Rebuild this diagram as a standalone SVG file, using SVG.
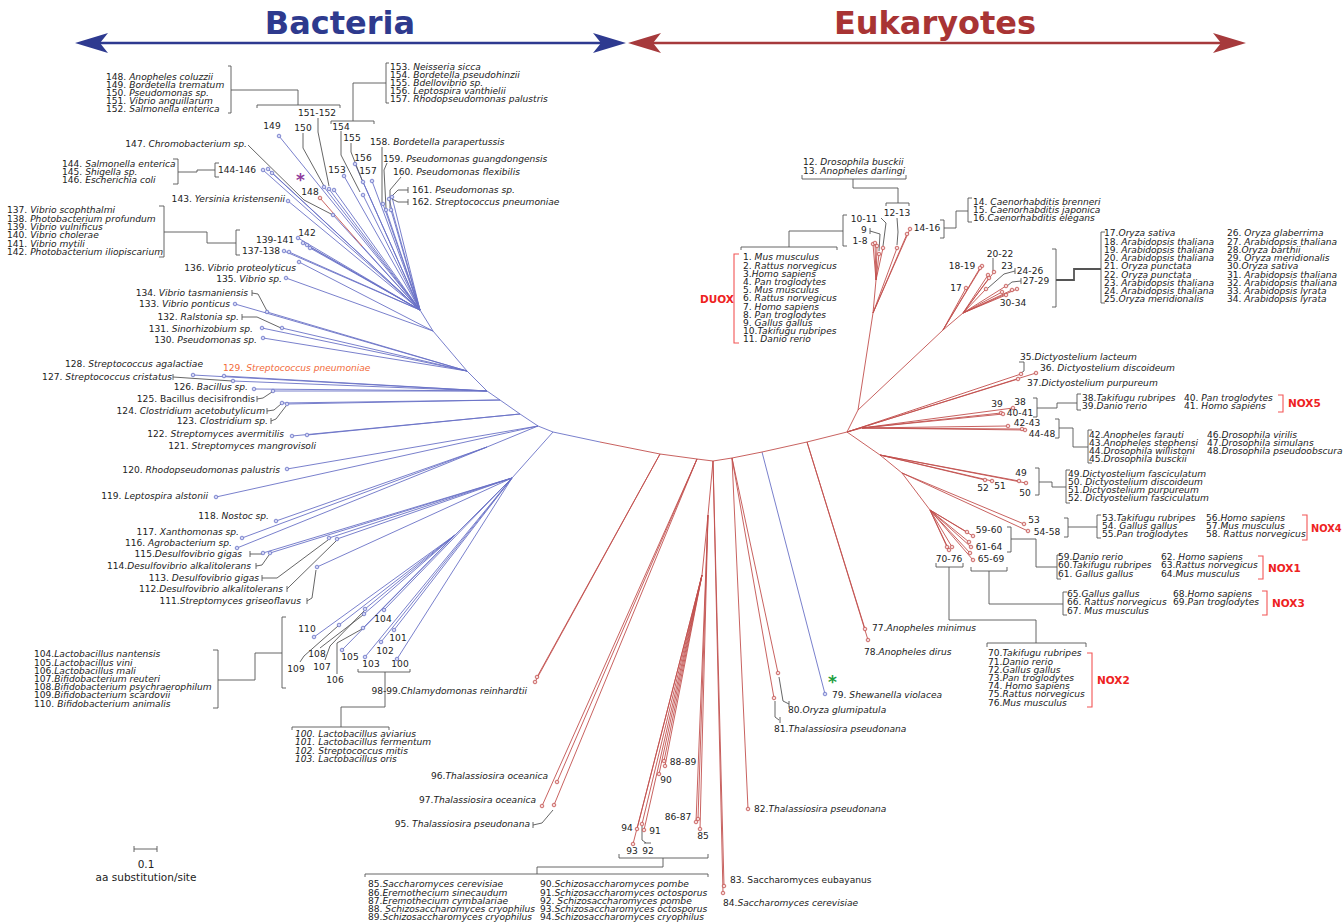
<svg xmlns="http://www.w3.org/2000/svg" width="1344" height="923" viewBox="0 0 1344 923">
<style>
.t{font-family:"DejaVu Sans",Verdana,sans-serif;font-size:9.1px;fill:#222}
.i{font-style:italic}
.m{text-anchor:middle}
.e{text-anchor:end}
.bl{stroke:#6a72c6;stroke-width:0.9;fill:none}
.rd{stroke:#c2504e;stroke-width:0.9;fill:none}
.gc{stroke:#555;stroke-width:0.9;fill:none}
.rb{stroke:#f25555;stroke-width:1.1;fill:none}
.bt{fill:#d4d7f4;stroke:#6a72c6;stroke-width:0.8}
.et{fill:#f6d8d8;stroke:#c2504e;stroke-width:0.8}
.nox{font-family:"DejaVu Sans",Verdana,sans-serif;font-size:10.5px;font-weight:bold;fill:#ee2222}
.ttl{font-family:"DejaVu Sans",Verdana,sans-serif;font-size:32px;font-weight:bold;text-anchor:middle}
</style>
<rect width="1344" height="923" fill="#fff"/>
<g id="header">
<text class="ttl" x="340" y="34" fill="#2e3a8e">Bacteria</text>
<text class="ttl" x="935" y="34" fill="#a83434">Eukaryotes</text>
<path d="M100,43 H601" stroke="#2e3a90" stroke-width="2.5"/>
<polygon points="75,43 108,33 100,43 108,53" fill="#2e3a90"/>
<polygon points="626,43 593,33 601,43 593,53" fill="#2e3a90"/>
<path d="M653,43 H1221" stroke="#a63a3c" stroke-width="2.5"/>
<polygon points="628,43 661,33 653,43 661,53" fill="#a63a3c"/>
<polygon points="1246,43 1213,33 1221,43 1213,53" fill="#a63a3c"/>
</g>
<g id="connectors">
<path class="bl" d="M600,442 L553,432 L538,426 L520,414 L500,400 L487,391 L467,371 L433,331 L420,310
M553,432 L512,478 M512,478 L397,659 M512,478 L394,630 M512,478 L381,642 M512,478 L365,657 M512,478 L384,610
M512,478 L455,535 M455,535 L342,650 M455,535 L363,628 M455,535 L365,609 M455,535 L364,614 M455,535 L339,625 M455,535 L314,637
M512,478 L317,567 M512,478 L337,539 M512,478 L329,538 M512,478 L270,553 M512,478 L263,553
M538,426 L487,447 M487,447 L237,548 M487,447 L242,538 M487,447 L276,521 M538,426 L216,497 M538,426 L287,469
M520,414 L307,435 M520,414 L292,436
M500,400 L287,404 M500,400 L282,403
M487,391 L273,391 M487,391 L254,389 M487,391 L233,381 M487,391 L193,375 M487,391 L224,376
M467,371 L263,338 M467,371 L262,328 M467,371 L282,328 M467,371 L235,304 M467,371 L267,312
M433,331 L286,278 M433,331 L299,262
M420,310 L284,251 M420,310 L289,252 M420,310 L303,243 M420,310 L307,245 M420,310 L310,248 M420,310 L298,238 M420,310 L288,201
M420,310 L263,170 M420,310 L268,169 M420,310 L272,173 M420,310 L333,215 M420,310 L279,136 M420,310 L324,187 M420,310 L329,189 M420,310 L334,190
M420,310 L344,176 M420,310 L363,195 M420,310 L363,182 M420,310 L355,164 M420,310 L372,181 M420,310 L383,204 M420,310 L386,210 M420,310 L391,210 M420,310 L392,197 M420,310 L389,199 M420,310 L362,246
M762,452 L825,694"/>
<path class="rd" d="M362,246 L320,198
M600,442 L660,454 L697,459 L713,461 L732,458 L762,452 L807,442 L847,432
M660,454 L537,677 M660,454 L535,682
M697,459 L557,782 M697,459 L542,806 M697,459 L554,805
M713,461 L708,515 L702,575
M702,575 L664,761 M702,575 L665,766 M702,575 L659,774 M702,575 L644,830 M702,575 L642,824 M702,575 L633,844 M702,575 L637,829
M708,515 L700,829 M708,515 L696,822 M708,515 L698,819
M713,461 L724,886 M713,461 L723,893
M732,458 L748,809 M732,458 L778,673 M732,458 L774,698
M807,442 L865,629 M807,442 L868,640
M847,432 L858,410 L873,313 L876,280
M876,280 L873,244 M876,280 L875,243 M876,280 L877,246 M876,280 L879,254 M876,280 L883,248
M873,313 L897,248 M873,313 L907,234 M873,313 L910,229
M858,410 L943,330
M943,330 L966,288 M943,330 L982,266 M943,330 L980,268 M943,330 L963,313
M963,313 L988,275 M963,313 L989,278 M963,313 L994,272 M963,313 L986,289 M963,313 L1006,286 M963,313 L1012,290 M963,313 L1017,289 M963,313 L1002,292 M963,313 L1006,295
M847,432 L1021,374 M847,432 L1036,373 M847,432 L1018,379
M847,432 L862,428 M862,428 L1013,408 M862,428 L1001,413 M862,428 L1003,414 M862,428 L1008,426 M862,428 L1025,430 M862,428 L1022,429
M847,432 L880,455 M880,455 L1019,481 M880,455 L1026,483 M880,455 L992,481 M880,455 L985,480
M880,455 L902,473 M902,473 L1024,524 M902,473 L1028,531
M902,473 L930,510 M930,510 L967,532 M930,510 L973,536 M930,510 L969,542 M930,510 L971,547 M930,510 L970,553 M930,510 L973,560 M930,510 L947,547 M930,510 L952,547 M930,510 L949,550"/>
<path class="gc" d="M228,66 L231,66 L231,113 L228,113 M231,90 L298,90 L298,105 M257,108 L257,105 L340,105 L340,108
M318,118 L318,132 L329,186
M389,63 L386,63 L386,103 L389,103 M386,83 L353,83 L353,121 M331,124 L331,121 L374,121 L374,124
M341,131 L341,155 L360,192 M351,143 L351,152 L362,180 M303,133 L303,148 L324,186
M382,147 L382,203 M387,163 L384,170 L386,208 M401,177 L390,190 L390,208
M408,187 L408,193 M408,190 L398,190 L392,196 M408,199 L408,205 M408,202 L398,202 L392,199
M173,159 L178,159 L178,184 L173,184 M178,172 L197,172 L197,170 L215,170 M219,163 L215,163 L215,177 L219,177
M248,145 L304,200 L333,215
M159,206 L164,206 L164,257 L159,257 M164,232 L207,232 L207,243 L236,243 M240,230 L236,230 L236,255 L240,255
M252,290 L252,296 M252,293 L258,294 L267,311
M242,314 L242,320 M242,317 L257,317 L281,328
M173,374 L173,380 M173,377 L232,381
M257,396 L257,402 M257,399 L263,398 L272,392
M267,408 L267,414 M267,411 L274,410 L281,404
M271,418 L271,424 M271,421 L276,419 L286,406
M250,551 L250,557 M250,554 L262,554
M256,563 L256,569 M256,566 L262,565 L269,555
M262,575 L262,581 M262,578 L277,578 L328,540
M287,586 L287,592 M287,589 L291,585 L336,541
M307,598 L307,604 M307,601 L312,598 L316,570
M213,650 L218,650 L218,708 L213,708 M218,680 L255,680 L255,653 L282,653 M286,617 L282,617 L282,688 L286,688
M300,662 L304,656 L338,626 M320,648 L363,615 M325,660 L330,646 L364,611 M337,674 L337,643 L362,629
M358,669 L358,672 L410,672 L410,669 M385,672 L385,707 L341,707 L341,727 M292,730 L292,727 L389,727 L389,730
M533,822 L533,828 M533,825 L542,823 L553,810
M642,826 L642,840 L646,843 M644,843 L651,843
M619,854 L619,858 L708,858 L708,854 M663,858 L663,867 L537,867 L537,874 M365,877 L365,874 L708,874 L708,877
M779,677 L783,701 L789,704 M789,701 L789,707
M775,701 L775,717 L779,720 M780,717 L780,723
M802,175 L802,179 L906,179 L906,175 M853,179 L853,188 L898,188 L898,203 M886,206 L886,203 L909,203 L909,206
M897,218 L898,232 L897,245
M847,215 L843,215 L843,246 L847,246 M843,231 L789,231 L789,247 M741,250 L741,247 L837,247 L837,250
M881,218 L886,223 L883,246 M870,228 L870,234 M870,231 L880,234 L879,251
M940,220 L944,220 L944,238 L940,238 M944,228 L956,228 L956,211 L968,211 M972,198 L968,198 L968,222 L972,222
M1052,249 L1056,249 L1056,307 L1052,307 M1105,232 L1101,232 L1101,303 L1105,303
M993,258 L993,271 M1015,268 L1015,274 M1015,271 L1004,274 L988,288 M1021,278 L1021,284 M1021,281 L1012,282 L1007,286
M1019,362 L1024,362 L1024,371 L1021,373
M1033,398 L1037,398 L1037,417 L1033,417 M1037,408 L1057,408 L1057,403 L1077,403 M1081,394 L1077,394 L1077,410 L1081,410
M1055,419 L1059,419 L1059,438 L1055,438 M1059,428 L1073,428 L1073,447 L1088,447 M1092,430 L1088,430 L1088,463 L1092,463
M1035,468 L1039,468 L1039,495 L1035,495 M1039,482 L1052,482 L1052,487 L1066,487 M1070,470 L1066,470 L1066,503 L1070,503
M1064,518 L1068,518 L1068,537 L1064,537 M1068,527 L1097,527 M1101,515 L1097,515 L1097,538 L1101,538
M1007,527 L1011,527 L1011,552 L1007,552 M1011,539 L1036,539 L1036,567 L1057,567 M1061,555 L1057,555 L1057,579 L1061,579
M971,567 L971,571 L1007,571 L1007,567 M989,571 L989,604 L1063,604 M1067,592 L1063,592 L1063,615 L1067,615
M936,563 L936,567 L963,567 L963,563 M949,567 L949,620 L1036,620 L1036,643 M987,647 L987,643 L1086,643 L1086,647
M134,846 L134,852 M134,849 L157,849 M157,846 L157,852"/>
<path d="M1056,280 L1074,280 L1074,269 L1101,269" stroke="#555" stroke-width="1.8" fill="none"/>
<path class="rb" d="M739,254 L734,254 L734,343 L739,343 M1278,395 L1283,395 L1283,412 L1278,412 M1302,515 L1307,515 L1307,540 L1302,540 M1258,556 L1263,556 L1263,579 L1258,579 M1262,591 L1267,591 L1267,615 L1262,615 M1087,653 L1092,653 L1092,707 L1087,707"/>
</g>
<g id="tips">
<g class="bt">
<circle cx="397" cy="659" r="1.8"/><circle cx="394" cy="630" r="1.8"/><circle cx="381" cy="642" r="1.8"/><circle cx="365" cy="657" r="1.8"/><circle cx="384" cy="610" r="1.8"/><circle cx="342" cy="650" r="1.8"/><circle cx="363" cy="628" r="1.8"/><circle cx="365" cy="609" r="1.8"/><circle cx="364" cy="614" r="1.8"/><circle cx="339" cy="625" r="1.8"/><circle cx="314" cy="637" r="1.8"/>
<circle cx="317" cy="567" r="1.8"/><circle cx="337" cy="539" r="1.8"/><circle cx="329" cy="538" r="1.8"/><circle cx="270" cy="553" r="1.8"/><circle cx="263" cy="553" r="1.8"/><circle cx="237" cy="548" r="1.8"/><circle cx="242" cy="538" r="1.8"/><circle cx="276" cy="521" r="1.8"/><circle cx="216" cy="497" r="1.8"/><circle cx="287" cy="469" r="1.8"/>
<circle cx="307" cy="435" r="1.8"/><circle cx="292" cy="436" r="1.8"/><circle cx="287" cy="404" r="1.8"/><circle cx="282" cy="403" r="1.8"/><circle cx="273" cy="391" r="1.8"/><circle cx="254" cy="389" r="1.8"/><circle cx="233" cy="381" r="1.8"/><circle cx="193" cy="375" r="1.8"/><circle cx="224" cy="376" r="1.8"/>
<circle cx="263" cy="338" r="1.8"/><circle cx="262" cy="328" r="1.8"/><circle cx="282" cy="328" r="1.8"/><circle cx="235" cy="304" r="1.8"/><circle cx="267" cy="312" r="1.8"/><circle cx="286" cy="278" r="1.8"/><circle cx="299" cy="262" r="1.8"/>
<circle cx="284" cy="251" r="1.8"/><circle cx="289" cy="252" r="1.8"/><circle cx="303" cy="243" r="1.8"/><circle cx="307" cy="245" r="1.8"/><circle cx="310" cy="248" r="1.8"/><circle cx="298" cy="238" r="1.8"/><circle cx="288" cy="201" r="1.8"/>
<circle cx="263" cy="170" r="1.8"/><circle cx="268" cy="169" r="1.8"/><circle cx="272" cy="173" r="1.8"/><circle cx="333" cy="215" r="1.8"/><circle cx="279" cy="136" r="1.8"/><circle cx="324" cy="187" r="1.8"/><circle cx="329" cy="189" r="1.8"/><circle cx="334" cy="190" r="1.8"/>
<circle cx="344" cy="176" r="1.8"/><circle cx="363" cy="195" r="1.8"/><circle cx="363" cy="182" r="1.8"/><circle cx="355" cy="164" r="1.8"/><circle cx="372" cy="181" r="1.8"/><circle cx="383" cy="204" r="1.8"/><circle cx="386" cy="210" r="1.8"/><circle cx="391" cy="210" r="1.8"/><circle cx="392" cy="197" r="1.8"/><circle cx="389" cy="199" r="1.8"/>
<circle cx="825" cy="694" r="1.8"/>
</g>
<g class="et">
<circle cx="320" cy="198" r="1.8"/>
<circle cx="537" cy="677" r="1.8"/><circle cx="535" cy="682" r="1.8"/><circle cx="557" cy="782" r="1.8"/><circle cx="542" cy="806" r="1.8"/><circle cx="554" cy="805" r="1.8"/>
<circle cx="664" cy="761" r="1.8"/><circle cx="665" cy="766" r="1.8"/><circle cx="659" cy="774" r="1.8"/><circle cx="644" cy="830" r="1.8"/><circle cx="642" cy="824" r="1.8"/><circle cx="633" cy="844" r="1.8"/><circle cx="637" cy="829" r="1.8"/>
<circle cx="700" cy="829" r="1.8"/><circle cx="696" cy="822" r="1.8"/><circle cx="698" cy="819" r="1.8"/><circle cx="724" cy="886" r="1.8"/><circle cx="723" cy="893" r="1.8"/>
<circle cx="748" cy="809" r="1.8"/><circle cx="778" cy="673" r="1.8"/><circle cx="774" cy="698" r="1.8"/><circle cx="865" cy="629" r="1.8"/><circle cx="868" cy="640" r="1.8"/>
<circle cx="873" cy="244" r="1.8"/><circle cx="875" cy="243" r="1.8"/><circle cx="877" cy="246" r="1.8"/><circle cx="879" cy="254" r="1.8"/><circle cx="883" cy="248" r="1.8"/><circle cx="897" cy="248" r="1.8"/><circle cx="907" cy="234" r="1.8"/><circle cx="910" cy="229" r="1.8"/>
<circle cx="966" cy="288" r="1.8"/><circle cx="982" cy="266" r="1.8"/><circle cx="980" cy="268" r="1.8"/><circle cx="988" cy="275" r="1.8"/><circle cx="989" cy="278" r="1.8"/><circle cx="994" cy="272" r="1.8"/><circle cx="986" cy="289" r="1.8"/><circle cx="1006" cy="286" r="1.8"/><circle cx="1012" cy="290" r="1.8"/><circle cx="1017" cy="289" r="1.8"/><circle cx="1002" cy="292" r="1.8"/><circle cx="1006" cy="295" r="1.8"/>
<circle cx="1021" cy="374" r="1.8"/><circle cx="1036" cy="373" r="1.8"/><circle cx="1018" cy="379" r="1.8"/>
<circle cx="1013" cy="408" r="1.8"/><circle cx="1001" cy="413" r="1.8"/><circle cx="1003" cy="414" r="1.8"/><circle cx="1008" cy="426" r="1.8"/><circle cx="1025" cy="430" r="1.8"/><circle cx="1022" cy="429" r="1.8"/>
<circle cx="1019" cy="481" r="1.8"/><circle cx="1026" cy="483" r="1.8"/><circle cx="992" cy="481" r="1.8"/><circle cx="985" cy="480" r="1.8"/><circle cx="1024" cy="524" r="1.8"/><circle cx="1028" cy="531" r="1.8"/>
<circle cx="967" cy="532" r="1.8"/><circle cx="973" cy="536" r="1.8"/><circle cx="969" cy="542" r="1.8"/><circle cx="971" cy="547" r="1.8"/><circle cx="970" cy="553" r="1.8"/><circle cx="973" cy="560" r="1.8"/><circle cx="947" cy="547" r="1.8"/><circle cx="952" cy="547" r="1.8"/><circle cx="949" cy="550" r="1.8"/>
</g>
</g>
<g id="bacteria-148-157" class="t">
<text x="106" y="79.8">148. <tspan class="i">Anopheles coluzzii</tspan></text>
<text x="106" y="87.9">149. <tspan class="i">Bordetella trematum</tspan></text>
<text x="106" y="96">150. <tspan class="i">Pseudomonas sp.</tspan></text>
<text x="106" y="104.1">151. <tspan class="i">Vibrio anguillarum</tspan></text>
<text x="106" y="112.2">152. <tspan class="i">Salmonella enterica</tspan></text>
<text x="390" y="69.8">153. <tspan class="i">Neisseria sicca</tspan></text>
<text x="390" y="77.9">154. <tspan class="i">Bordetella pseudohinzii</tspan></text>
<text x="390" y="86">155. <tspan class="i">Bdellovibrio sp.</tspan></text>
<text x="390" y="94.1">156. <tspan class="i">Leptospira vanthielii</tspan></text>
<text x="390" y="102.2">157. <tspan class="i">Rhodopseudomonas palustris</tspan></text>
<text class="m" x="272" y="129.3">149</text>
<text class="m" x="303" y="131.3">150</text>
<text class="m" x="317" y="116.3">151-152</text>
<text class="m" x="341" y="130.3">154</text>
<text class="m" x="352" y="141.3">155</text>
<text class="m" x="363" y="161.3">156</text>
<text class="m" x="337" y="173.3">153</text>
<text class="m" x="368" y="174.3">157</text>
<text class="m" x="310" y="195.3">148</text>
<text x="296" y="186" style="font-size:17px;font-weight:bold;fill:#8e3a9d">*</text>
<text x="370" y="145.3">158. <tspan class="i">Bordetella parapertussis</tspan></text>
<text x="383" y="162.3">159. <tspan class="i">Pseudomonas guangdongensis</tspan></text>
<text x="393" y="175.3">160. <tspan class="i">Pseudomonas flexibilis</tspan></text>
<text x="412" y="193.3">161. <tspan class="i">Pseudomonas sp.</tspan></text>
<text x="412" y="205.3">162. <tspan class="i">Streptococcus pneumoniae</tspan></text>
</g>
<g id="bacteria-130-147" class="t">
<text class="e" x="247" y="147.3">147. <tspan class="i">Chromobacterium sp.</tspan></text>
<text x="62" y="166.6">144. <tspan class="i">Salmonella enterica</tspan></text>
<text x="62" y="174.9">145. <tspan class="i">Shigella sp.</tspan></text>
<text x="62" y="183.3">146. <tspan class="i">Escherichia coli</tspan></text>
<text class="m" x="237" y="173.3">144-146</text>
<text class="e" x="285" y="202.3">143. <tspan class="i">Yersinia kristensenii</tspan></text>
<text x="7" y="213.3">137. <tspan class="i">Vibrio scophthalmi</tspan></text>
<text x="7" y="221.6">138. <tspan class="i">Photobacterium profundum</tspan></text>
<text x="7" y="229.9">139. <tspan class="i">Vibrio vulnificus</tspan></text>
<text x="7" y="238.2">140. <tspan class="i">Vibrio cholerae</tspan></text>
<text x="7" y="246.5">141. <tspan class="i">Vibrio mytili</tspan></text>
<text x="7" y="254.8">142. <tspan class="i">Photobacterium iliopiscarium</tspan></text>
<text class="m" x="307" y="236.3">142</text>
<text class="m" x="275" y="243.3">139-141</text>
<text class="m" x="261" y="254.3">137-138</text>
<text class="e" x="296" y="271.3">136. <tspan class="i">Vibrio proteolyticus</tspan></text>
<text class="e" x="282" y="282.3">135. <tspan class="i">Vibrio sp.</tspan></text>
<text class="e" x="248" y="296.3">134. <tspan class="i">Vibrio tasmaniensis</tspan></text>
<text class="e" x="230" y="307.3">133. <tspan class="i">Vibrio ponticus</tspan></text>
<text class="e" x="239" y="320.3">132. <tspan class="i">Ralstonia sp.</tspan></text>
<text class="e" x="253" y="332.3">131. <tspan class="i">Sinorhizobium sp.</tspan></text>
<text class="e" x="257" y="343.3">130. <tspan class="i">Pseudomonas sp.</tspan></text>
</g>
<g id="bacteria-111-129" class="t">
<text class="e" x="203" y="367.3">128. <tspan class="i">Streptococcus agalactiae</tspan></text>
<text x="223" y="371.3" style="fill:#f26b3a">129. <tspan class="i">Streptococcus pneumoniae</tspan></text>
<text class="e" x="172" y="380.3">127. <tspan class="i">Streptococcus cristatus</tspan></text>
<text class="e" x="248" y="390.3">126. <tspan class="i">Bacillus sp.</tspan></text>
<text class="e" x="255" y="402.3">125. Bacillus decisifrondis</text>
<text class="e" x="265" y="414.3">124. <tspan class="i">Clostridium acetobutylicum</tspan></text>
<text class="e" x="268" y="424.3">123. <tspan class="i">Clostridium sp.</tspan></text>
<text class="e" x="284" y="437.3">122. <tspan class="i">Streptomyces avermitilis</tspan></text>
<text class="e" x="316" y="449.3">121. <tspan class="i">Streptomyces mangrovisoli</tspan></text>
<text class="e" x="280" y="473.3">120. <tspan class="i">Rhodopseudomonas palustris</tspan></text>
<text class="e" x="208" y="499.3">119. <tspan class="i">Leptospira alstonii</tspan></text>
<text class="e" x="269" y="519.3">118. <tspan class="i">Nostoc sp.</tspan></text>
<text class="e" x="239" y="535.3">117. <tspan class="i">Xanthomonas sp.</tspan></text>
<text class="e" x="232" y="546.3">116. <tspan class="i">Agrobacterium sp.</tspan></text>
<text class="e" x="242" y="557.3">115.<tspan class="i">Desulfovibrio gigas</tspan></text>
<text class="e" x="251" y="569.3">114.<tspan class="i">Desulfovibrio alkalitolerans</tspan></text>
<text class="e" x="259" y="581.3">113. <tspan class="i">Desulfovibrio gigas</tspan></text>
<text class="e" x="283" y="592.3">112.<tspan class="i">Desulfovibrio alkalitolerans</tspan></text>
<text class="e" x="301" y="604.3">111.<tspan class="i">Streptomyces griseoflavus</tspan></text>
</g>
<g id="bacteria-100-110" class="t">
<text x="34" y="657.3">104.<tspan class="i">Lactobacillus nantensis</tspan></text>
<text x="34" y="665.5">105.<tspan class="i">Lactobacillus vini</tspan></text>
<text x="34" y="673.7">106.<tspan class="i">Lactobacillus mali</tspan></text>
<text x="34" y="681.9">107.<tspan class="i">Bifidobacterium reuteri</tspan></text>
<text x="34" y="690.1">108.<tspan class="i">Bifidobacterium psychraerophilum</tspan></text>
<text x="34" y="698.3">109.<tspan class="i">Bifidobacterium scardovii</tspan></text>
<text x="34" y="706.5">110. <tspan class="i">Bifidobacterium animalis</tspan></text>
<text class="m" x="307" y="632.3">110</text>
<text class="m" x="383" y="622.3">104</text>
<text class="m" x="398" y="641.3">101</text>
<text class="m" x="385" y="654.3">102</text>
<text class="m" x="350" y="660.3">105</text>
<text class="m" x="317" y="657.3">108</text>
<text class="m" x="296" y="672.3">109</text>
<text class="m" x="322" y="670.3">107</text>
<text class="m" x="371" y="667.3">103</text>
<text class="m" x="400" y="667.3">100</text>
<text class="m" x="335" y="683.3">106</text>
<text class="i" x="295" y="737.3">100. Lactobacillus aviarius</text>
<text class="i" x="295" y="745.4">101. Lactobacillus fermentum</text>
<text class="i" x="295" y="753.5">102. Streptococcus mitis</text>
<text class="i" x="295" y="761.6">103. Lactobacillus oris</text>
</g>
<g id="euk-79-99" class="t">
<text class="e" x="527" y="694.3">98-99.<tspan class="i">Chlamydomonas reinhardtii</tspan></text>
<text class="e" x="548" y="779.3">96.<tspan class="i">Thalassiosira oceanica</tspan></text>
<text class="e" x="536" y="803.3">97.<tspan class="i">Thalassiosira oceanica</tspan></text>
<text class="e" x="530" y="827.3">95. <tspan class="i">Thalassiosira pseudonana</tspan></text>
<text class="m" x="683" y="765.3">88-89</text>
<text class="m" x="666" y="783.3">90</text>
<text class="m" x="678" y="820.3">86-87</text>
<text class="m" x="703" y="839.3">85</text>
<text class="m" x="627" y="831.3">94</text>
<text class="m" x="655" y="834.3">91</text>
<text class="m" x="632" y="854.3">93</text>
<text class="m" x="648" y="854.3">92</text>
<text x="368" y="887.3">85.<tspan class="i">Saccharomyces cerevisiae</tspan></text>
<text x="368" y="895.5">86.<tspan class="i">Eremothecium sinecaudum</tspan></text>
<text x="368" y="903.7">87.<tspan class="i">Eremothecium cymbalariae</tspan></text>
<text x="368" y="911.9">88. <tspan class="i">Schizosaccharomyces cryophilus</tspan></text>
<text x="368" y="920.1">89.<tspan class="i">Schizosaccharomyces cryophilus</tspan></text>
<text x="540" y="887.3">90.<tspan class="i">Schizosaccharomyces pombe</tspan></text>
<text x="540" y="895.5">91.<tspan class="i">Schizosaccharomyces octosporus</tspan></text>
<text x="540" y="903.7">92. <tspan class="i">Schizosaccharomyces pombe</tspan></text>
<text x="540" y="911.9">93.<tspan class="i">Schizosaccharomyces octosporus</tspan></text>
<text x="540" y="920.1">94.<tspan class="i">Schizosaccharomyces cryophilus</tspan></text>
<text x="730" y="883.3">83. Saccharomyces eubayanus</text>
<text x="723" y="906.3">84.<tspan class="i">Saccharomyces cerevisiae</tspan></text>
<text x="754" y="812.3">82.<tspan class="i">Thalassiosira pseudonana</tspan></text>
<text x="788" y="713.3">80.<tspan class="i">Oryza glumipatula</tspan></text>
<text x="774" y="732.3">81.<tspan class="i">Thalassiosira pseudonana</tspan></text>
<text x="832" y="698.3">79. <tspan class="i">Shewanella violacea</tspan></text>
<text x="828" y="688" style="font-size:17px;font-weight:bold;fill:#1e9e3e">*</text>
<text x="872" y="631.3">77.<tspan class="i">Anopheles minimus</tspan></text>
<text x="864" y="655.3">78.<tspan class="i">Anopheles dirus</tspan></text>
</g>
<g id="euk-duox" class="t">
<text x="803" y="165.3">12. <tspan class="i">Drosophila busckii</tspan></text>
<text x="803" y="173.5">13. <tspan class="i">Anopheles darlingi</tspan></text>
<text class="m" x="897" y="216.3">12-13</text>
<text class="m" x="864" y="222.3">10-11</text>
<text class="m" x="864" y="233.3">9</text>
<text class="m" x="860" y="244.3">1-8</text>
<text class="m" x="927" y="231.3">14-16</text>
<text x="973" y="205.3">14. <tspan class="i">Caenorhabditis brenneri</tspan></text>
<text x="973" y="213.3">15. <tspan class="i">Caenorhabditis japonica</tspan></text>
<text x="973" y="221.3">16.<tspan class="i">Caenorhabditis elegans</tspan></text>
<text x="743" y="260.3">1. <tspan class="i">Mus musculus</tspan></text>
<text x="743" y="268.5">2. <tspan class="i">Rattus norvegicus</tspan></text>
<text x="743" y="276.7">3.<tspan class="i">Homo sapiens</tspan></text>
<text x="743" y="284.9">4. <tspan class="i">Pan troglodytes</tspan></text>
<text x="743" y="293.1">5. <tspan class="i">Mus musculus</tspan></text>
<text x="743" y="301.3">6. <tspan class="i">Rattus norvegicus</tspan></text>
<text x="743" y="309.5">7. <tspan class="i">Homo sapiens</tspan></text>
<text x="743" y="317.7">8. <tspan class="i">Pan troglodytes</tspan></text>
<text x="743" y="325.9">9. <tspan class="i">Gallus gallus</tspan></text>
<text x="743" y="334.1">10.<tspan class="i">Takifugu rubripes</tspan></text>
<text x="743" y="342.3">11. <tspan class="i">Danio rerio</tspan></text>
<text class="nox" x="700" y="303">DUOX</text>
</g>
<g id="euk-plants" class="t">
<text class="m" x="962" y="269.3">18-19</text>
<text class="m" x="1000" y="257.3">20-22</text>
<text class="m" x="1007" y="269.3">23</text>
<text class="m" x="1030" y="274">24-26</text>
<text class="m" x="956" y="291.3">17</text>
<text class="m" x="1036" y="284.3">27-29</text>
<text class="m" x="1013" y="306.3">30-34</text>
<text x="1104" y="236.3">17.<tspan class="i">Oryza sativa</tspan></text>
<text x="1104" y="244.6">18. <tspan class="i">Arabidopsis thaliana</tspan></text>
<text x="1104" y="252.8">19. <tspan class="i">Arabidopsis thaliana</tspan></text>
<text x="1104" y="261.1">20. <tspan class="i">Arabidopsis thaliana</tspan></text>
<text x="1104" y="269.3">21. <tspan class="i">Oryza punctata</tspan></text>
<text x="1104" y="277.6">22. <tspan class="i">Oryza punctata</tspan></text>
<text x="1104" y="285.8">23. <tspan class="i">Arabidopsis thaliana</tspan></text>
<text x="1104" y="294.1">24. <tspan class="i">Arabidopsis thaliana</tspan></text>
<text x="1104" y="302.3">25.<tspan class="i">Oryza meridionalis</tspan></text>
<text x="1227" y="236.3">26. <tspan class="i">Oryza glaberrima</tspan></text>
<text x="1227" y="244.6">27. <tspan class="i">Arabidopsis thaliana</tspan></text>
<text x="1227" y="252.8">28.<tspan class="i">Oryza barthii</tspan></text>
<text x="1227" y="261.1">29. <tspan class="i">Oryza meridionalis</tspan></text>
<text x="1227" y="269.3">30.<tspan class="i">Oryza sativa</tspan></text>
<text x="1227" y="277.6">31. <tspan class="i">Arabidopsis thaliana</tspan></text>
<text x="1227" y="285.8">32. <tspan class="i">Arabidopsis thaliana</tspan></text>
<text x="1227" y="294.1">33. <tspan class="i">Arabidopsis lyrata</tspan></text>
<text x="1227" y="302.3">34. <tspan class="i">Arabidopsis lyrata</tspan></text>
</g>
<g id="euk-nox" class="t">
<text x="1020" y="360.3">35.<tspan class="i">Dictyostelium lacteum</tspan></text>
<text x="1040" y="371.3">36. <tspan class="i">Dictyostelium discoideum</tspan></text>
<text x="1027" y="386.3">37.<tspan class="i">Dictyostelium purpureum</tspan></text>
<text class="m" x="997" y="407.3">39</text>
<text class="m" x="1020" y="405.3">38</text>
<text class="m" x="1020" y="416.3">40-41</text>
<text x="1082" y="401.3">38.<tspan class="i">Takifugu rubripes</tspan></text>
<text x="1082" y="409.3">39.<tspan class="i">Danio rerio</tspan></text>
<text x="1184" y="401.3">40. <tspan class="i">Pan troglodytes</tspan></text>
<text x="1184" y="409.3">41. <tspan class="i">Homo sapiens</tspan></text>
<text class="nox" x="1288" y="407">NOX5</text>
<text class="m" x="1027" y="426.3">42-43</text>
<text class="m" x="1042" y="437.3">44-48</text>
<text x="1089" y="438.3">42.<tspan class="i">Anopheles farauti</tspan></text>
<text x="1089" y="446.3">43.<tspan class="i">Anopheles stephensi</tspan></text>
<text x="1089" y="454.3">44.<tspan class="i">Drosophila willistoni</tspan></text>
<text x="1089" y="462.3">45.<tspan class="i">Drosophila busckii</tspan></text>
<text x="1207" y="438.3">46.<tspan class="i">Drosophila virilis</tspan></text>
<text x="1207" y="446.3">47.<tspan class="i">Drosophila simulans</tspan></text>
<text x="1207" y="454.3">48.<tspan class="i">Drosophila pseudoobscura</tspan></text>
<text class="m" x="1021" y="476.3">49</text>
<text class="m" x="983" y="491.3">52</text>
<text class="m" x="1000" y="489.3">51</text>
<text class="m" x="1025" y="496.3">50</text>
<text x="1068" y="477.3">49.<tspan class="i">Dictyostelium fasciculatum</tspan></text>
<text x="1068" y="485.3">50. <tspan class="i">Dictyostelium discoideum</tspan></text>
<text x="1068" y="493.3">51.<tspan class="i">Dictyostelium purpureum</tspan></text>
<text x="1068" y="501.3">52. <tspan class="i">Dictyostelium fasciculatum</tspan></text>
<text class="m" x="1034" y="523.3">53</text>
<text class="m" x="1047" y="535.3">54-58</text>
<text x="1102" y="521.3">53.<tspan class="i">Takifugu rubripes</tspan></text>
<text x="1102" y="529.3">54. <tspan class="i">Gallus gallus</tspan></text>
<text x="1102" y="537.3">55.<tspan class="i">Pan troglodytes</tspan></text>
<text x="1206" y="521.3">56.<tspan class="i">Homo sapiens</tspan></text>
<text x="1206" y="529.3">57.<tspan class="i">Mus musculus</tspan></text>
<text x="1206" y="537.3">58. <tspan class="i">Rattus norvegicus</tspan></text>
<text class="nox" x="1311" y="532" style="font-size:9.8px">NOX4</text>
<text class="m" x="989" y="533.3">59-60</text>
<text class="m" x="989" y="550.3">61-64</text>
<text class="m" x="991" y="562.3">65-69</text>
<text class="m" x="949" y="562.3">70-76</text>
<text x="1058" y="560.3">59.<tspan class="i">Danio rerio</tspan></text>
<text x="1058" y="568.3">60.<tspan class="i">Takifugu rubripes</tspan></text>
<text x="1058" y="577.3">61. <tspan class="i">Gallus gallus</tspan></text>
<text x="1161" y="560.3">62. <tspan class="i">Homo sapiens</tspan></text>
<text x="1161" y="568.3">63.<tspan class="i">Rattus norvegicus</tspan></text>
<text x="1161" y="577.3">64.<tspan class="i">Mus musculus</tspan></text>
<text class="nox" x="1268" y="572">NOX1</text>
<text x="1067" y="597.3">65.<tspan class="i">Gallus gallus</tspan></text>
<text x="1067" y="605.3">66. <tspan class="i">Rattus norvegicus</tspan></text>
<text x="1067" y="614.3">67. <tspan class="i">Mus musculus</tspan></text>
<text x="1173" y="597.3">68.<tspan class="i">Homo sapiens</tspan></text>
<text x="1173" y="605.3">69.<tspan class="i">Pan troglodytes</tspan></text>
<text class="nox" x="1272" y="607">NOX3</text>
<text x="988" y="656.3">70.<tspan class="i">Takifugu rubripes</tspan></text>
<text x="988" y="664.5">71.<tspan class="i">Danio rerio</tspan></text>
<text x="988" y="672.7">72.<tspan class="i">Gallus gallus</tspan></text>
<text x="988" y="680.9">73.<tspan class="i">Pan troglodytes</tspan></text>
<text x="988" y="689.1">74. <tspan class="i">Homo sapiens</tspan></text>
<text x="988" y="697.3">75.<tspan class="i">Rattus norvegicus</tspan></text>
<text x="988" y="705.5">76.<tspan class="i">Mus musculus</tspan></text>
<text class="nox" x="1097" y="684">NOX2</text>
</g>
<g id="scale-bar" class="t" style="font-size:10.5px">
<text class="m" x="146" y="868">0.1</text>
<text class="m" x="146" y="881">aa substitution/site</text>
</g>
</svg>
